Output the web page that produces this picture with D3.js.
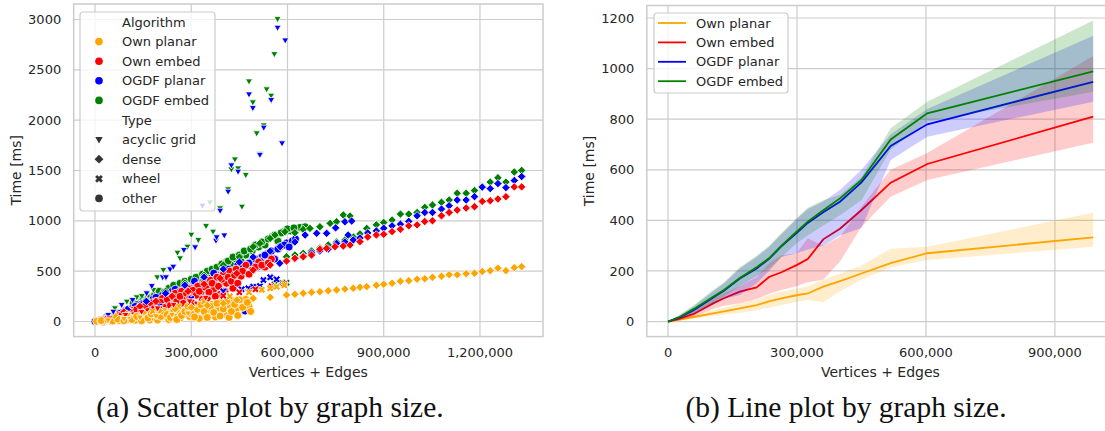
<!DOCTYPE html>
<html>
<head>
<meta charset="utf-8">
<script src="https://cdn.jsdelivr.net/npm/d3@7"></script>
<style>
  body { margin: 0; background: #fff; }
  text { font-family: "DejaVu Sans", sans-serif; fill: #262626; }
  .cap { font-family: "Liberation Serif", serif; fill: #111; }
</style>
</head>
<body>
<svg id="fig" width="1105" height="431"></svg>
<script>
// ---------- data (x in thousands of vertices+edges, y in ms) ----------
var algorithms = ["Own planar", "Own embed", "OGDF planar", "OGDF embed"];
var algoColors = ["orange", "red", "blue", "green"];
var graphTypes = ["acyclic grid", "dense", "wheel", "other"];

// scatter: acyclic grid
var ownPlanarGrid = [[40, 12], [90, 25], [140, 40], [190, 52], [240, 66], [290, 80]];
var ownEmbedGrid = [[45, 30], [95, 65], [145, 95], [195, 130], [245, 165], [295, 200], [345, 235]];
var ogdfPlanarGrid = [[41, 65], [57, 97], [83, 164], [117, 213], [161, 280], [177, 352], [211, 439], [221, 439],
  [234, 518], [244, 544], [277, 710], [312, 737], [335, 1150], [377, 802], [379, 836], [390, 1100], [403, 855],
  [415, 1289], [425, 1551], [446, 1488], [480, 2256], [492, 2120], [514, 1655], [526, 1925], [549, 2200],
  [569, 2918], [583, 1770], [593, 2792]];
var ogdfEmbedGrid = [[62, 131], [99, 197], [130, 240], [146, 253], [182, 313], [194, 439], [213, 511], [257, 683],
  [265, 628], [288, 743], [300, 862], [322, 809], [346, 948], [358, 1183], [368, 892], [390, 1124], [415, 1313],
  [425, 1511], [436, 1610], [446, 1521], [458, 1140], [470, 1455], [480, 2385], [492, 2177], [504, 1869],
  [514, 1665], [526, 1948], [535, 2306], [549, 2243], [559, 2656], [569, 3004]];

// scatter: dense
var ownPlanarDense = [[60, 60], [100, 75], [150, 90], [200, 110], [250, 125], [300, 140], [350, 160], [400, 180],
  [442, 213], [493, 230], [546, 240], [597, 263], [623, 270], [649, 280], [675, 290], [701, 296], [727, 305],
  [753, 313], [779, 322], [805, 330], [826, 340], [847, 346], [877, 360], [900, 370], [926, 380], [952, 400],
  [978, 405], [1004, 420], [1028, 425], [1052, 440], [1080, 450], [1104, 465], [1129, 465], [1157, 475],
  [1183, 480], [1207, 497], [1232, 505], [1256, 530], [1281, 505], [1307, 535], [1330, 545]];
var ownEmbedDense = [[40, 40], [90, 95], [140, 150], [190, 200], [240, 250], [290, 300], [340, 370], [390, 429],
  [442, 478], [493, 511], [546, 561], [597, 600], [623, 628], [649, 643], [675, 660], [701, 717], [722, 727],
  [748, 743], [774, 750], [795, 760], [826, 793], [850, 840], [877, 860], [900, 866], [926, 893], [952, 917],
  [978, 950], [1004, 960], [1028, 993], [1052, 1000], [1080, 1050], [1104, 1083], [1129, 1107], [1157, 1127],
  [1183, 1140], [1207, 1193], [1232, 1200], [1256, 1217], [1281, 1240], [1307, 1337], [1330, 1337]];
var ogdfPlanarDense = [[100, 120], [160, 200], [220, 280], [280, 360], [340, 440], [400, 520], [450, 590],
  [493, 640], [546, 700], [577, 743], [623, 790], [655, 859], [691, 876], [722, 876], [750, 930], [779, 991],
  [800, 998],
  [576, 578], [623, 628], [649, 650], [675, 680], [701, 700], [727, 720], [753, 776], [779, 790], [789, 859],
  [805, 810], [826, 830], [850, 880], [877, 900], [900, 927], [926, 950], [952, 967], [978, 995], [1004, 1050],
  [1028, 1083], [1052, 1083], [1080, 1117], [1104, 1150], [1129, 1207], [1157, 1207], [1183, 1240],
  [1207, 1335], [1232, 1320], [1256, 1370], [1281, 1330], [1307, 1400], [1330, 1440]];
var ogdfEmbedDense = [[100, 125], [160, 210], [220, 300], [280, 380], [340, 460], [400, 560], [450, 640],
  [493, 743], [514, 776], [546, 826], [561, 859], [592, 892], [623, 882], [649, 915], [670, 925], [701, 941],
  [733, 975], [753, 991], [774, 1058], [795, 1048],
  [597, 643], [623, 660], [649, 677], [675, 700], [701, 730], [727, 760], [753, 790], [779, 810], [805, 840],
  [826, 870], [847, 925], [877, 960], [900, 983], [926, 1008], [952, 1067], [978, 1067], [1004, 1083],
  [1028, 1134], [1052, 1157], [1080, 1184], [1104, 1207], [1129, 1274], [1157, 1274], [1183, 1301],
  [1207, 1340], [1232, 1385], [1256, 1428], [1281, 1385], [1307, 1485], [1330, 1501]];

// scatter: wheel
var ownPlanarWheel = [[100, 55], [180, 100], [260, 150], [340, 200], [420, 250], [480, 290], [520, 315],
  [546, 330], [566, 345], [590, 360]];
var ownEmbedWheel = [[100, 60], [200, 125], [300, 190], [400, 255], [450, 290], [500, 320], [550, 350], [590, 375]];
var ogdfPlanarWheel = [[100, 75], [200, 150], [300, 225], [400, 300], [457, 320], [478, 330], [493, 346],
  [514, 352], [525, 412], [546, 439], [566, 419]];
var ogdfEmbedWheel = [[100, 70], [200, 140], [300, 215], [400, 290], [500, 340], [560, 370], [582, 385], [597, 385]];

// scatter: other
var ownPlanarOther = [[5, 2], [18, 4], [30, 8], [45, 6], [60, 15], [75, 10], [85, 25], [100, 18], [110, 35],
  [125, 12], [135, 40], [150, 28], [160, 55], [170, 15], [180, 45], [190, 70], [200, 30], [210, 85], [220, 52],
  [230, 20], [240, 95], [250, 65], [260, 110], [265, 35], [275, 80], [285, 125], [295, 50], [305, 140], [315, 95],
  [325, 30], [335, 155], [345, 70], [355, 120], [365, 170], [375, 45], [385, 135], [395, 190], [405, 95],
  [412, 60], [420, 160], [430, 205], [440, 120], [455, 180], [470, 220], [480, 150],
  [20, 10], [40, 15], [55, 5], [70, 25], [90, 8], [115, 20], [130, 50], [145, 8], [165, 35], [175, 75],
  [195, 15], [205, 50], [215, 100], [225, 70], [235, 40], [245, 115], [255, 20], [270, 60], [280, 100],
  [290, 150], [300, 75], [310, 45], [320, 120], [330, 165], [340, 100], [350, 40], [360, 150], [370, 90],
  [380, 180], [390, 55], [400, 125], [410, 200], [418, 40], [425, 100], [435, 170], [445, 60], [450, 215],
  [460, 140], [475, 190], [485, 100]];
var ownEmbedOther = [[8, 5], [20, 15], [35, 30], [50, 45], [60, 20], [70, 65], [80, 40], [95, 90], [105, 55],
  [115, 110], [125, 75], [140, 140], [150, 95], [160, 170], [170, 120], [180, 60], [190, 200], [200, 150],
  [210, 230], [220, 110], [230, 250], [240, 185], [250, 280], [260, 140], [270, 300], [280, 220], [290, 330],
  [300, 260], [310, 170], [320, 350], [330, 290], [340, 380], [350, 230], [360, 410], [370, 320], [380, 440],
  [390, 270], [400, 470], [410, 380], [420, 500], [430, 330], [440, 520], [455, 450], [470, 560], [490, 510],
  [510, 590], [530, 540], [550, 620],
  [30, 20], [45, 30], [65, 50], [85, 70], [100, 50], [110, 95], [120, 60], [130, 120], [145, 110], [155, 150],
  [165, 100], [175, 185], [185, 130], [195, 170], [205, 190], [215, 140], [225, 220], [235, 160], [245, 240],
  [255, 200], [265, 250], [275, 180], [285, 280], [295, 230], [305, 310], [315, 260], [325, 300], [335, 220],
  [345, 340], [355, 290], [365, 380], [375, 250], [385, 350], [395, 420], [405, 300], [415, 440], [425, 400],
  [435, 460], [445, 380], [460, 500], [480, 470], [500, 540], [520, 560], [540, 580]];
var ogdfPlanarOther = [[0, 0], [26, 0], [40, 30], [55, 55], [70, 20], [85, 90], [100, 60], [115, 130], [130, 100],
  [145, 175], [151, 181], [165, 130], [180, 220], [195, 160], [210, 260], [225, 200], [240, 300], [255, 280],
  [275, 213], [285, 340], [300, 260], [315, 380], [330, 310], [345, 420], [360, 350], [369, 379], [380, 460],
  [395, 400], [410, 181], [426, 164], [440, 520], [455, 470], [468, 104], [470, 560], [490, 600], [505, 540],
  [520, 640], [540, 680], [560, 620], [577, 743], [597, 780], [615, 800],
  [15, 10], [35, 40], [60, 60], [75, 80], [95, 110], [110, 90], [125, 150], [140, 140], [160, 200], [175, 180],
  [190, 240], [205, 210], [220, 280], [235, 250], [250, 320], [265, 300], [280, 360], [295, 330], [310, 400],
  [325, 360], [340, 440], [355, 400], [370, 480], [385, 440], [400, 500], [415, 520], [430, 480], [445, 560],
  [460, 530], [480, 580], [500, 620], [515, 600], [530, 660], [550, 700], [570, 720], [590, 760], [605, 740],
  [625, 820]];
var ogdfEmbedOther = [[10, 5], [30, 25], [50, 55], [65, 35], [78, 32], [90, 100], [105, 80], [119, 181],
  [130, 140], [145, 200], [160, 170], [175, 240], [190, 210], [205, 270], [220, 250], [235, 300], [249, 313],
  [260, 340], [275, 320], [290, 380], [305, 360], [320, 420], [327, 412], [340, 450], [355, 430], [370, 500],
  [385, 470], [400, 540], [410, 594], [425, 560], [440, 620], [455, 600], [470, 660], [490, 700], [510, 740],
  [530, 760], [551, 842], [570, 800], [587, 892], [610, 900], [639, 935], [655, 941],
  [20, 15], [40, 45], [60, 70], [80, 85], [100, 120], [115, 110], [130, 170], [150, 220], [165, 230],
  [185, 260], [200, 300], [215, 290], [230, 330], [245, 360], [265, 380], [280, 400], [300, 420], [315, 440],
  [335, 470], [350, 500], [365, 520], [380, 540], [395, 570], [415, 600], [430, 640], [450, 660], [465, 700],
  [485, 720], [500, 760], [520, 790], [540, 820], [560, 860], [580, 880], [600, 920], [620, 930]];

// line plot: mean and 95% band per size bin
var lineX = [0, 28, 60, 105, 130, 167, 206, 235, 264, 299, 325, 361, 400, 450, 518, 603, 989];
var ownPlanarMean = [0, 8, 18, 32, 40, 52, 65, 80, 92, 104, 111, 138, 160, 190, 231, 270, 333];
var ownPlanarLow = [0, 5, 12, 22, 28, 35, 45, 55, 65, 78, 85, 76, 120, 165, 215, 243, 296];
var ownPlanarHigh = [0, 11, 25, 45, 55, 72, 85, 105, 118, 130, 140, 165, 190, 222, 288, 296, 430];
var ownEmbedMean = [0, 12, 30, 72, 92, 118, 135, 176, 195, 223, 247, 325, 367, 441, 549, 623, 810];
var ownEmbedLow = [0, 8, 20, 50, 62, 72, 88, 110, 125, 140, 155, 165, 237, 375, 493, 560, 707];
var ownEmbedHigh = [0, 16, 40, 92, 112, 140, 175, 230, 262, 270, 329, 300, 335, 454, 600, 666, 1050];
var ogdfPlanarMean = [0, 17, 45, 95, 122, 170, 210, 248, 298, 350, 390, 432, 474, 550, 694, 780, 948];
var ogdfPlanarLow = [0, 10, 30, 70, 90, 105, 150, 200, 255, 270, 285, 300, 340, 370, 639, 731, 869];
var ogdfPlanarHigh = [0, 25, 60, 120, 150, 210, 255, 295, 345, 405, 445, 475, 520, 600, 740, 840, 1130];
var ogdfEmbedMean = [0, 19, 50, 98, 125, 172, 215, 250, 300, 355, 395, 440, 487, 560, 720, 823, 989];
var ogdfEmbedLow = [0, 12, 35, 75, 100, 140, 180, 210, 255, 310, 340, 380, 420, 480, 680, 790, 909];
var ogdfEmbedHigh = [0, 28, 65, 125, 155, 215, 260, 300, 350, 408, 450, 480, 500, 570, 764, 869, 1190];

var leftXTicks = [0, 300000, 600000, 900000, 1200000];
var leftYTicks = [0, 500, 1000, 1500, 2000, 2500, 3000];
var rightXTicks = [0, 300000, 600000, 900000];
var rightYTicks = [0, 200, 400, 600, 800, 1000, 1200];
var captions = ["(a) Scatter plot by graph size.", "(b) Line plot by graph size."];

// ---------- setup ----------
var svg = d3.select("#fig");
svg.append("rect").attr("width", 1105).attr("height", 431).attr("fill", "#fff");
var gridColor = "#cccccc";
var fmt = d3.format(",");

var scatterSets = [
  {grid: ownPlanarGrid, dense: ownPlanarDense, wheel: ownPlanarWheel, other: ownPlanarOther},
  {grid: ownEmbedGrid, dense: ownEmbedDense, wheel: ownEmbedWheel, other: ownEmbedOther},
  {grid: ogdfPlanarGrid, dense: ogdfPlanarDense, wheel: ogdfPlanarWheel, other: ogdfPlanarOther},
  {grid: ogdfEmbedGrid, dense: ogdfEmbedDense, wheel: ogdfEmbedWheel, other: ogdfEmbedOther}
];
var lineSets = [
  {mean: ownPlanarMean, low: ownPlanarLow, high: ownPlanarHigh},
  {mean: ownEmbedMean, low: ownEmbedLow, high: ownEmbedHigh},
  {mean: ogdfPlanarMean, low: ogdfPlanarLow, high: ogdfPlanarHigh},
  {mean: ogdfEmbedMean, low: ogdfEmbedLow, high: ogdfEmbedHigh}
];

function markerPath(type) {
  if (type === "other") return d3.symbol(d3.symbolCircle, Math.PI * 4 * 4)();
  if (type === "dense") return "M0,-4.2L4.2,0L0,4.2L-4.2,0Z";
  if (type === "acyclic grid") return "M-3.5,-2.5L3.5,-2.5L0,3.6Z";
  // wheel: filled X
  var a = 3.9, w = 1.35;
  var pts = [[-w, -a], [w, -a], [w, -w], [a, -w], [a, w], [w, w], [w, a], [-w, a], [-w, w], [-a, w], [-a, -w], [-w, -w]];
  var c = Math.SQRT1_2;
  return "M" + pts.map(function (p) {
    return [(p[0] - p[1]) * c, (p[0] + p[1]) * c].join(",");
  }).join("L") + "Z";
}

function drawFrame(g, x, y, xTicks, yTicks) {
  var x0 = x.range()[0], x1 = x.range()[1], y0 = y.range()[0], y1 = y.range()[1];
  g.selectAll(".vgrid").data(xTicks).enter().append("line")
    .attr("x1", function (d) { return x(d); }).attr("x2", function (d) { return x(d); })
    .attr("y1", y0).attr("y2", y1).attr("stroke", gridColor).attr("stroke-width", 1.2);
  g.selectAll(".hgrid").data(yTicks).enter().append("line")
    .attr("y1", function (d) { return y(d); }).attr("y2", function (d) { return y(d); })
    .attr("x1", x0).attr("x2", x1).attr("stroke", gridColor).attr("stroke-width", 1.2);
  g.selectAll(".xt").data(xTicks).enter().append("text")
    .attr("x", function (d) { return x(d); }).attr("y", y0 + 11).attr("dy", "0.76em")
    .attr("text-anchor", "middle").style("font-size", "13px").text(function (d) { return fmt(d); });
  g.selectAll(".yt").data(yTicks).enter().append("text")
    .attr("x", x0 - 12.5).attr("y", function (d) { return y(d); }).attr("dy", "0.35em")
    .attr("text-anchor", "end").style("font-size", "13px").text(function (d) { return d; });
}

function drawBorder(g, x, y) {
  var x0 = x.range()[0], x1 = x.range()[1], y0 = y.range()[0], y1 = y.range()[1];
  g.append("rect").attr("x", x0).attr("y", y1).attr("width", x1 - x0).attr("height", y0 - y1)
    .attr("fill", "none").attr("stroke", gridColor).attr("stroke-width", 1.5);
}

// ---------- (a) scatter ----------
var xL = d3.scaleLinear().domain([-66500, 1396500]).range([73.7, 543]);
var yL = d3.scaleLinear().domain([-150, 3154]).range([336.6, 4]);
var gL = svg.append("g");
drawFrame(gL, xL, yL, leftXTicks, leftYTicks);

svg.append("clipPath").attr("id", "clipL").append("rect")
  .attr("x", 73.7).attr("y", 4).attr("width", 543 - 73.7).attr("height", 336.6 - 4);
var pts = gL.append("g").attr("clip-path", "url(#clipL)");
var typeKeys = {"acyclic grid": "grid", "dense": "dense", "wheel": "wheel", "other": "other"};
["other", "wheel", "dense", "acyclic grid"].forEach(function (type) {
  for (var i = algorithms.length - 1; i >= 0; i--) {
    pts.selectAll(null).data(scatterSets[i][typeKeys[type]]).enter().append("path")
      .attr("d", markerPath(type))
      .attr("transform", function (d) { return "translate(" + xL(d[0] * 1000) + "," + yL(d[1]) + ")"; })
      .attr("fill", algoColors[i]).attr("stroke", "#fff").attr("stroke-width", 0.8);
  }
});
drawBorder(gL, xL, yL);

gL.append("text").attr("x", (73.7 + 543) / 2).attr("y", 372).attr("dy", "0.35em")
  .attr("text-anchor", "middle").style("font-size", "14px").text("Vertices + Edges");
gL.append("text").attr("transform", "translate(16.5," + (336.6 + 4) / 2 + ") rotate(-90)")
  .attr("dy", "0.35em").attr("text-anchor", "middle").style("font-size", "14px").text("Time [ms]");

// legend (a)
var legL = gL.append("g");
legL.append("rect").attr("x", 80).attr("y", 12).attr("width", 135).attr("height", 199).attr("rx", 3)
  .attr("fill", "#fff").attr("fill-opacity", 0.8).attr("stroke", gridColor).attr("stroke-width", 1.2);
var legRows = [{label: "Algorithm"}];
algorithms.forEach(function (a, i) { legRows.push({label: a, color: algoColors[i], type: "other"}); });
legRows.push({label: "Type"});
graphTypes.forEach(function (t) { legRows.push({label: t, color: "#333", type: t}); });
legRows.forEach(function (r, i) {
  var yy = 22 + i * 19.6;
  if (r.type) {
    legL.append("path").attr("d", markerPath(r.type))
      .attr("transform", "translate(99," + yy + ")" + (r.type === "other" ? " scale(0.95)" : " scale(1.05)"))
      .attr("fill", r.color);
  }
  legL.append("text").attr("x", 122).attr("y", yy).attr("dy", "0.35em")
    .style("font-size", "13px").text(r.label);
});

// ---------- (b) line plot ----------
var xR = d3.scaleLinear().domain([-49400, 1037400]).range([646.8, 1114]);
var yR = d3.scaleLinear().domain([-59.5, 1249.5]).range([336.6, 5.5]);
var gR = svg.append("g");
drawFrame(gR, xR, yR, rightXTicks, rightYTicks);

var area = d3.area()
  .x(function (d) { return xR(d.x * 1000); })
  .y0(function (d) { return yR(d.lo); })
  .y1(function (d) { return yR(d.hi); });
var line = d3.line()
  .x(function (d) { return xR(d.x * 1000); })
  .y(function (d) { return yR(d.m); });

lineSets.forEach(function (s, i) {
  var rows = lineX.map(function (x, j) { return {x: x, m: s.mean[j], lo: s.low[j], hi: s.high[j]}; });
  gR.append("path").datum(rows).attr("d", area).attr("fill", algoColors[i]).attr("fill-opacity", 0.2);
  gR.append("path").datum(rows).attr("d", line).attr("fill", "none")
    .attr("stroke", algoColors[i]).attr("stroke-width", 1.8);
});
drawBorder(gR, xR, yR);

gR.append("text").attr("x", (646.8 + 1114) / 2).attr("y", 372).attr("dy", "0.35em")
  .attr("text-anchor", "middle").style("font-size", "14px").text("Vertices + Edges");
gR.append("text").attr("transform", "translate(589," + (336.6 + 5.5) / 2 + ") rotate(-90)")
  .attr("dy", "0.35em").attr("text-anchor", "middle").style("font-size", "14px").text("Time [ms]");

var legR = gR.append("g");
legR.append("rect").attr("x", 654).attr("y", 13).attr("width", 134).attr("height", 80).attr("rx", 3)
  .attr("fill", "#fff").attr("fill-opacity", 0.8).attr("stroke", gridColor).attr("stroke-width", 1.2);
algorithms.forEach(function (a, i) {
  var yy = 23 + i * 19.4;
  legR.append("line").attr("x1", 658).attr("x2", 686).attr("y1", yy).attr("y2", yy)
    .attr("stroke", algoColors[i]).attr("stroke-width", 1.8);
  legR.append("text").attr("x", 696).attr("y", yy).attr("dy", "0.35em")
    .style("font-size", "13px").text(a);
});

// ---------- captions ----------
svg.selectAll(".cap").data(captions).enter().append("text").attr("class", "cap")
  .attr("x", function (d, i) { return i === 0 ? 270 : 846; }).attr("y", 417)
  .attr("text-anchor", "middle").style("font-size", "29.5px").text(function (d) { return d; });
</script>
</body>
</html>
